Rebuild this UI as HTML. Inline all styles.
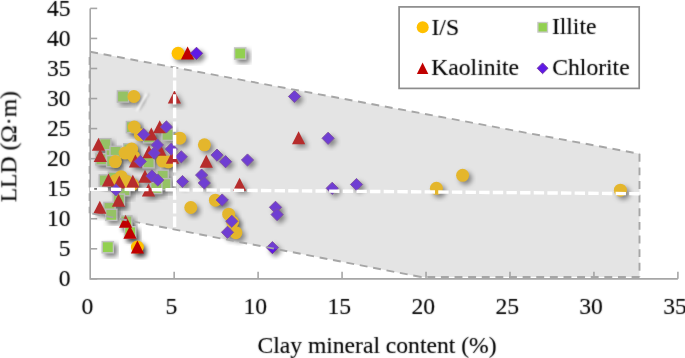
<!DOCTYPE html>
<html><head><meta charset="utf-8"><style>
html,body{margin:0;padding:0;background:#fff;}
svg{display:block;}
text{font-family:"Liberation Serif",serif;fill:#000;}
text{opacity:0.999;stroke:#000;stroke-width:0.12px;}
</style></head><body>
<svg width="685" height="358" viewBox="0 0 685 358">
<defs>
<filter id="sh" x="-50%" y="-50%" width="200%" height="200%">
<feGaussianBlur in="SourceAlpha" stdDeviation="2.6"/>
<feOffset dx="3.1" dy="3.2" result="o"/>
<feComponentTransfer><feFuncA type="linear" slope="0.52"/></feComponentTransfer>
</filter>
<filter id="bl1" x="-50%" y="-50%" width="200%" height="200%"><feGaussianBlur stdDeviation="0.9"/></filter>
<filter id="tb" x="-5%" y="-5%" width="110%" height="110%"><feConvolveMatrix order="3" kernelMatrix="1 2 1 2 20 2 1 2 1" divisor="32" edgeMode="none" preserveAlpha="false"/></filter>
<g id="mc"><circle cx="0" cy="0" r="6.5" fill="#FFC000"/></g>
<g id="ms"><rect x="-5.6" y="-5.6" width="11.2" height="11.2" fill="#92D050" stroke="#C4C4C4" stroke-width="1.4"/></g>
<g id="mt"><path d="M0,-6.8 L6.6,6.2 L-6.6,6.2 Z" fill="#C00000"/></g>
<g id="md"><path d="M0,-6.1 L6.1,0 L0,6.1 L-6.1,0 Z" fill="#5E1AE6" stroke="#7030A0" stroke-width="0.9"/></g>
</defs>
<rect width="685" height="358" fill="#fff"/>

<g stroke="#a6a6a6" stroke-width="1.6" fill="none">
<path d="M90.2,8.4 V278.85 H677.9"/>
<path d="M90.2,278.85 h7"/>
<path d="M90.2,248.80 h7"/>
<path d="M90.2,218.75 h7"/>
<path d="M90.2,188.70 h7"/>
<path d="M90.2,158.65 h7"/>
<path d="M90.2,128.60 h7"/>
<path d="M90.2,98.55 h7"/>
<path d="M90.2,68.50 h7"/>
<path d="M90.2,38.45 h7"/>
<path d="M90.2,8.40 h7"/>
<path d="M174.16,278.85 v-7"/>
<path d="M258.11,278.85 v-7"/>
<path d="M342.07,278.85 v-7"/>
<path d="M426.03,278.85 v-7"/>
<path d="M509.99,278.85 v-7"/>
<path d="M593.94,278.85 v-7"/>
<path d="M677.90,278.85 v-7"/>
</g>
<g>
<use href="#ms" x="240.2" y="53.5" filter="url(#sh)"/>
<use href="#ms" x="123.0" y="96.5" filter="url(#sh)"/>
<use href="#ms" x="132.0" y="127.1" filter="url(#sh)"/>
<use href="#ms" x="167.6" y="134.8" filter="url(#sh)"/>
<use href="#ms" x="105.3" y="144.3" filter="url(#sh)"/>
<use href="#ms" x="101.5" y="159.3" filter="url(#sh)"/>
<use href="#ms" x="111.6" y="155.3" filter="url(#sh)"/>
<use href="#ms" x="115.6" y="151.9" filter="url(#sh)"/>
<use href="#ms" x="112.2" y="161.2" filter="url(#sh)"/>
<use href="#ms" x="129.3" y="149.4" filter="url(#sh)"/>
<use href="#ms" x="148.6" y="162.3" filter="url(#sh)"/>
<use href="#ms" x="149.0" y="137.3" filter="url(#sh)"/>
<use href="#ms" x="104.8" y="180.5" filter="url(#sh)"/>
<use href="#ms" x="114.0" y="177.7" filter="url(#sh)"/>
<use href="#ms" x="162.7" y="175.8" filter="url(#sh)"/>
<use href="#ms" x="165.4" y="184.2" filter="url(#sh)"/>
<use href="#ms" x="156.3" y="188.0" filter="url(#sh)"/>
<use href="#ms" x="124.3" y="190.2" filter="url(#sh)"/>
<use href="#ms" x="118.9" y="199.7" filter="url(#sh)"/>
<use href="#ms" x="109.5" y="208.0" filter="url(#sh)"/>
<use href="#ms" x="111.3" y="214.8" filter="url(#sh)"/>
<use href="#ms" x="126.3" y="221.5" filter="url(#sh)"/>
<use href="#ms" x="130.2" y="232.3" filter="url(#sh)"/>
<use href="#ms" x="107.8" y="247.2" filter="url(#sh)"/>
<use href="#mc" x="178.1" y="53.3" filter="url(#sh)"/>
<use href="#mc" x="436.4" y="188.3" filter="url(#sh)"/>
<use href="#mc" x="462.6" y="175.3" filter="url(#sh)"/>
<use href="#mc" x="620.4" y="190.2" filter="url(#sh)"/>
<use href="#mc" x="204.4" y="144.8" filter="url(#sh)"/>
<use href="#mc" x="215.4" y="200.2" filter="url(#sh)"/>
<use href="#mc" x="190.8" y="207.5" filter="url(#sh)"/>
<use href="#mc" x="228.7" y="214.2" filter="url(#sh)"/>
<use href="#mc" x="232.6" y="222.0" filter="url(#sh)"/>
<use href="#mc" x="235.9" y="232.7" filter="url(#sh)"/>
<use href="#mc" x="133.9" y="96.5" filter="url(#sh)"/>
<use href="#mc" x="134.2" y="127.0" filter="url(#sh)"/>
<use href="#mc" x="140.3" y="134.8" filter="url(#sh)"/>
<use href="#mc" x="179.8" y="138.2" filter="url(#sh)"/>
<use href="#mc" x="115.4" y="161.6" filter="url(#sh)"/>
<use href="#mc" x="125.1" y="153.1" filter="url(#sh)"/>
<use href="#mc" x="131.7" y="149.1" filter="url(#sh)"/>
<use href="#mc" x="133.8" y="156.7" filter="url(#sh)"/>
<use href="#mc" x="162.7" y="161.1" filter="url(#sh)"/>
<use href="#mc" x="168.3" y="162.0" filter="url(#sh)"/>
<use href="#mc" x="121.2" y="176.7" filter="url(#sh)"/>
<use href="#mc" x="132.5" y="184.5" filter="url(#sh)"/>
<use href="#mc" x="126.8" y="181.5" filter="url(#sh)"/>
<use href="#mc" x="115.8" y="180.5" filter="url(#sh)"/>
<use href="#mc" x="137.4" y="247.0" filter="url(#sh)"/>
<use href="#mt" x="187.6" y="53.3" filter="url(#sh)"/>
<use href="#mt" x="298.6" y="138.0" filter="url(#sh)"/>
<use href="#mt" x="206.3" y="161.5" filter="url(#sh)"/>
<use href="#mt" x="239.6" y="184.6" filter="url(#sh)"/>
<use href="#mt" x="174.4" y="97.2" filter="url(#sh)"/>
<use href="#mt" x="151.3" y="134.2" filter="url(#sh)"/>
<use href="#mt" x="159.7" y="127.0" filter="url(#sh)"/>
<use href="#mt" x="98.5" y="144.5" filter="url(#sh)"/>
<use href="#mt" x="100.3" y="155.7" filter="url(#sh)"/>
<use href="#mt" x="135.4" y="161.4" filter="url(#sh)"/>
<use href="#mt" x="149.0" y="152.0" filter="url(#sh)"/>
<use href="#mt" x="159.7" y="149.6" filter="url(#sh)"/>
<use href="#mt" x="172.5" y="157.5" filter="url(#sh)"/>
<use href="#mt" x="108.5" y="180.2" filter="url(#sh)"/>
<use href="#mt" x="119.3" y="182.2" filter="url(#sh)"/>
<use href="#mt" x="132.8" y="181.5" filter="url(#sh)"/>
<use href="#mt" x="145.0" y="176.5" filter="url(#sh)"/>
<use href="#mt" x="148.5" y="190.3" filter="url(#sh)"/>
<use href="#mt" x="118.5" y="200.5" filter="url(#sh)"/>
<use href="#mt" x="99.8" y="207.5" filter="url(#sh)"/>
<use href="#mt" x="125.6" y="221.5" filter="url(#sh)"/>
<use href="#mt" x="130.0" y="232.6" filter="url(#sh)"/>
<use href="#mt" x="137.4" y="247.2" filter="url(#sh)"/>
<use href="#md" x="196.5" y="53.3" filter="url(#sh)"/>
<use href="#md" x="294.5" y="96.5" filter="url(#sh)"/>
<use href="#md" x="328.1" y="138.3" filter="url(#sh)"/>
<use href="#md" x="332.2" y="188.3" filter="url(#sh)"/>
<use href="#md" x="356.5" y="184.5" filter="url(#sh)"/>
<use href="#md" x="217.0" y="155.1" filter="url(#sh)"/>
<use href="#md" x="225.6" y="161.7" filter="url(#sh)"/>
<use href="#md" x="247.5" y="160.0" filter="url(#sh)"/>
<use href="#md" x="201.6" y="175.1" filter="url(#sh)"/>
<use href="#md" x="204.3" y="183.0" filter="url(#sh)"/>
<use href="#md" x="222.2" y="200.0" filter="url(#sh)"/>
<use href="#md" x="231.8" y="221.3" filter="url(#sh)"/>
<use href="#md" x="227.5" y="232.3" filter="url(#sh)"/>
<use href="#md" x="272.4" y="247.6" filter="url(#sh)"/>
<use href="#md" x="275.5" y="207.3" filter="url(#sh)"/>
<use href="#md" x="277.1" y="214.6" filter="url(#sh)"/>
<use href="#md" x="143.7" y="134.5" filter="url(#sh)"/>
<use href="#md" x="166.4" y="126.9" filter="url(#sh)"/>
<use href="#md" x="157.4" y="145.0" filter="url(#sh)"/>
<use href="#md" x="140.3" y="161.4" filter="url(#sh)"/>
<use href="#md" x="154.2" y="153.1" filter="url(#sh)"/>
<use href="#md" x="171.3" y="149.1" filter="url(#sh)"/>
<use href="#md" x="181.3" y="156.8" filter="url(#sh)"/>
<use href="#md" x="115.9" y="189.9" filter="url(#sh)"/>
<use href="#md" x="151.9" y="176.0" filter="url(#sh)"/>
<use href="#md" x="157.8" y="180.0" filter="url(#sh)"/>
<use href="#md" x="182.5" y="181.5" filter="url(#sh)"/>
</g>
<g>
<use href="#ms" x="240.2" y="53.5"/>
<use href="#ms" x="123.0" y="96.5"/>
<use href="#ms" x="132.0" y="127.1"/>
<use href="#ms" x="167.6" y="134.8"/>
<use href="#ms" x="105.3" y="144.3"/>
<use href="#ms" x="101.5" y="159.3"/>
<use href="#ms" x="111.6" y="155.3"/>
<use href="#ms" x="115.6" y="151.9"/>
<use href="#ms" x="112.2" y="161.2"/>
<use href="#ms" x="129.3" y="149.4"/>
<use href="#ms" x="148.6" y="162.3"/>
<use href="#ms" x="149.0" y="137.3"/>
<use href="#ms" x="104.8" y="180.5"/>
<use href="#ms" x="114.0" y="177.7"/>
<use href="#ms" x="162.7" y="175.8"/>
<use href="#ms" x="165.4" y="184.2"/>
<use href="#ms" x="156.3" y="188.0"/>
<use href="#ms" x="124.3" y="190.2"/>
<use href="#ms" x="118.9" y="199.7"/>
<use href="#ms" x="109.5" y="208.0"/>
<use href="#ms" x="111.3" y="214.8"/>
<use href="#ms" x="126.3" y="221.5"/>
<use href="#ms" x="130.2" y="232.3"/>
<use href="#ms" x="107.8" y="247.2"/>
</g>
<g>
<use href="#mc" x="178.1" y="53.3"/>
<use href="#mc" x="436.4" y="188.3"/>
<use href="#mc" x="462.6" y="175.3"/>
<use href="#mc" x="620.4" y="190.2"/>
<use href="#mc" x="204.4" y="144.8"/>
<use href="#mc" x="215.4" y="200.2"/>
<use href="#mc" x="190.8" y="207.5"/>
<use href="#mc" x="228.7" y="214.2"/>
<use href="#mc" x="232.6" y="222.0"/>
<use href="#mc" x="235.9" y="232.7"/>
<use href="#mc" x="133.9" y="96.5"/>
<use href="#mc" x="134.2" y="127.0"/>
<use href="#mc" x="140.3" y="134.8"/>
<use href="#mc" x="179.8" y="138.2"/>
<use href="#mc" x="115.4" y="161.6"/>
<use href="#mc" x="125.1" y="153.1"/>
<use href="#mc" x="131.7" y="149.1"/>
<use href="#mc" x="133.8" y="156.7"/>
<use href="#mc" x="162.7" y="161.1"/>
<use href="#mc" x="168.3" y="162.0"/>
<use href="#mc" x="121.2" y="176.7"/>
<use href="#mc" x="132.5" y="184.5"/>
<use href="#mc" x="126.8" y="181.5"/>
<use href="#mc" x="115.8" y="180.5"/>
<use href="#mc" x="137.4" y="247.0"/>
</g>
<g>
<use href="#mt" x="187.6" y="53.3"/>
<use href="#mt" x="298.6" y="138.0"/>
<use href="#mt" x="206.3" y="161.5"/>
<use href="#mt" x="239.6" y="184.6"/>
<use href="#mt" x="174.4" y="97.2"/>
<use href="#mt" x="151.3" y="134.2"/>
<use href="#mt" x="159.7" y="127.0"/>
<use href="#mt" x="98.5" y="144.5"/>
<use href="#mt" x="100.3" y="155.7"/>
<use href="#mt" x="135.4" y="161.4"/>
<use href="#mt" x="149.0" y="152.0"/>
<use href="#mt" x="159.7" y="149.6"/>
<use href="#mt" x="172.5" y="157.5"/>
<use href="#mt" x="108.5" y="180.2"/>
<use href="#mt" x="119.3" y="182.2"/>
<use href="#mt" x="132.8" y="181.5"/>
<use href="#mt" x="145.0" y="176.5"/>
<use href="#mt" x="148.5" y="190.3"/>
<use href="#mt" x="118.5" y="200.5"/>
<use href="#mt" x="99.8" y="207.5"/>
<use href="#mt" x="125.6" y="221.5"/>
<use href="#mt" x="130.0" y="232.6"/>
<use href="#mt" x="137.4" y="247.2"/>
</g>
<g>
<use href="#md" x="196.5" y="53.3"/>
<use href="#md" x="294.5" y="96.5"/>
<use href="#md" x="328.1" y="138.3"/>
<use href="#md" x="332.2" y="188.3"/>
<use href="#md" x="356.5" y="184.5"/>
<use href="#md" x="217.0" y="155.1"/>
<use href="#md" x="225.6" y="161.7"/>
<use href="#md" x="247.5" y="160.0"/>
<use href="#md" x="201.6" y="175.1"/>
<use href="#md" x="204.3" y="183.0"/>
<use href="#md" x="222.2" y="200.0"/>
<use href="#md" x="231.8" y="221.3"/>
<use href="#md" x="227.5" y="232.3"/>
<use href="#md" x="272.4" y="247.6"/>
<use href="#md" x="275.5" y="207.3"/>
<use href="#md" x="277.1" y="214.6"/>
<use href="#md" x="143.7" y="134.5"/>
<use href="#md" x="166.4" y="126.9"/>
<use href="#md" x="157.4" y="145.0"/>
<use href="#md" x="140.3" y="161.4"/>
<use href="#md" x="154.2" y="153.1"/>
<use href="#md" x="171.3" y="149.1"/>
<use href="#md" x="181.3" y="156.8"/>
<use href="#md" x="115.9" y="189.9"/>
<use href="#md" x="151.9" y="176.0"/>
<use href="#md" x="157.8" y="180.0"/>
<use href="#md" x="182.5" y="181.5"/>
</g>
<polygon points="90.2,51.8 639.5,153.8 639.5,277 421,277 90.2,213.2" fill="#9e9e9e" fill-opacity="0.28" stroke="none"/>
<g fill="none" stroke="#a6a6a6" stroke-width="1.9" stroke-dasharray="7.9 5.72">
<path d="M90.2,51.8 L639.5,153.8"/>
<path d="M639.5,153.8 L639.5,277"/>
<path d="M639.5,277 L421,277"/>
<path d="M421,277 L90.2,213.2"/>
<path d="M89.6,51.8 L89.6,213.2" stroke-dashoffset="8.42"/>
</g>
<path d="M139,110.6 L148.8,93.6" stroke="#000" stroke-opacity="0.16" stroke-width="2.4" filter="url(#bl1)"/>
<path d="M137,110.6 L146.8,93.6" stroke="#fff" stroke-opacity="1" stroke-width="2.2" filter="url(#bl1)"/>
<g stroke="#fff" stroke-width="3.4" stroke-dasharray="10.5 3.3" fill="none">
<path d="M174.6,67 V228.3" stroke-dasharray="10.4 3.2"/>
<path d="M90.2,189.1 L639.6,193.7" stroke-dasharray="10.400 3.240" stroke-dashoffset="6.580"/>
<path d="M90.2,189.2 H107.7" stroke-dasharray="none"/>
</g>
<rect x="94.2" y="188" width="2.8" height="1.8" fill="#777"/>
<g class="tx" filter="url(#tb)">
<text x="70.6" y="286.0" font-size="23.6" text-anchor="end">0</text>
<text x="70.6" y="255.9" font-size="23.6" text-anchor="end">5</text>
<text x="70.6" y="225.8" font-size="23.6" text-anchor="end">10</text>
<text x="70.6" y="195.8" font-size="23.6" text-anchor="end">15</text>
<text x="70.6" y="165.8" font-size="23.6" text-anchor="end">20</text>
<text x="70.6" y="135.7" font-size="23.6" text-anchor="end">25</text>
<text x="70.6" y="105.6" font-size="23.6" text-anchor="end">30</text>
<text x="70.6" y="75.6" font-size="23.6" text-anchor="end">35</text>
<text x="70.6" y="45.5" font-size="23.6" text-anchor="end">40</text>
<text x="70.6" y="15.5" font-size="23.6" text-anchor="end">45</text>
<text x="87.4" y="313.6" font-size="23.6" text-anchor="middle">0</text>
<text x="171.4" y="313.6" font-size="23.6" text-anchor="middle">5</text>
<text x="255.3" y="313.6" font-size="23.6" text-anchor="middle">10</text>
<text x="339.3" y="313.6" font-size="23.6" text-anchor="middle">15</text>
<text x="423.2" y="313.6" font-size="23.6" text-anchor="middle">20</text>
<text x="507.2" y="313.6" font-size="23.6" text-anchor="middle">25</text>
<text x="591.1" y="313.6" font-size="23.6" text-anchor="middle">30</text>
<text x="675.1" y="313.6" font-size="23.6" text-anchor="middle">35</text>
<text x="377" y="353.2" font-size="23.6" text-anchor="middle">Clay mineral content (%)</text>
<text transform="translate(16.3,146.7) rotate(-90)" font-size="23.6" text-anchor="middle">LLD (Ω·m)</text>
</g>
<rect x="399.1" y="6.9" width="240.1" height="81.5" fill="#fff" stroke="#8c8c8c" stroke-width="1.7"/>
<circle cx="422.7" cy="27.2" r="6" fill="#FFC000"/>
<rect x="537.9" y="22.5" width="9.6" height="9.6" fill="#92D050" stroke="#C9C9C9" stroke-width="1.3"/>
<path d="M422.6,62.4 L428.3,73.9 L416.9,73.9 Z" fill="#C00000"/>
<path d="M542.6,62.9 L548,68.3 L542.6,73.7 L537.2,68.3 Z" fill="#5E1AE6" stroke="#7030A0" stroke-width="0.9"/>
<g class="tx" filter="url(#tb)">
<text x="431.5" y="35.2" font-size="23.6">I/S</text>
<text x="551.9" y="33.7" font-size="23.6">Illite</text>
<text x="431.3" y="75.3" font-size="23.6">Kaolinite</text>
<text x="552.3" y="75.3" font-size="23.6">Chlorite</text>
</g>
</svg></body></html>
